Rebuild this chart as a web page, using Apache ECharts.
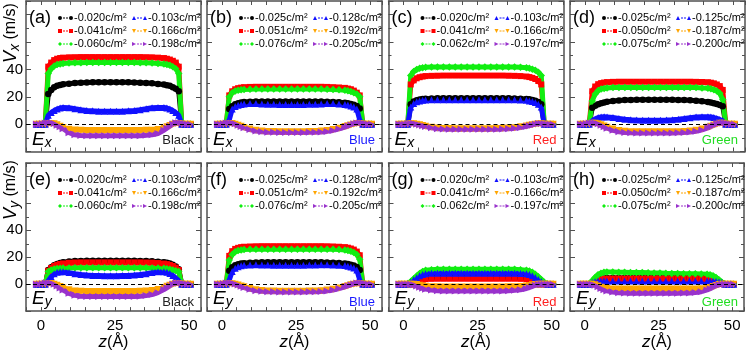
<!DOCTYPE html>
<html>
<head>
<meta charset="utf-8">
<script src="https://cdn.jsdelivr.net/npm/echarts@6/dist/echarts.min.js"></script>
<style>
  html, body { margin: 0; padding: 0; background: #fff; }
  #chart { width: 747px; height: 352px; }
</style>
</head>
<body>
<div id="chart"></div>
<script>
// z positions (Å) shared by every profile
const zPos = [-1.5,-0.5,0.5,1.5, 2.5,3.5,4.5,5.5,6.5,7.5, 9.5,11.5,13.5,15.5,17.5,19.5,21.5,23.5,25.5,27.5,29.5,31.5,33.5,35.5,37.5,39.5, 41.5,42.5,43.5,44.5,45.5,46.5, 47.5,48.5,49.5,50.5];

// surface charge labels per sheet
const qBlack = ['-0.020c/m²','-0.041c/m²','-0.060c/m²','-0.103c/m²','-0.166c/m²','-0.198c/m²'];
const qBlue  = ['-0.025c/m²','-0.051c/m²','-0.076c/m²','-0.128c/m²','-0.192c/m²','-0.205c/m²'];
const qRed   = ['-0.020c/m²','-0.041c/m²','-0.062c/m²','-0.103c/m²','-0.166c/m²','-0.197c/m²'];
const qGreen = ['-0.025c/m²','-0.050c/m²','-0.075c/m²','-0.125c/m²','-0.187c/m²','-0.200c/m²'];

// (a) Vx, Ex, Black
const aBlack  = [0,0,0,0, 22,25,27,28,28.6,29.1, 29.6,30,30.3,30.5,30.6,30.6,30.7,30.7,30.7,30.6,30.6,30.5,30.3,30.1,29.8,29.4, 29,28.5,28,27,25.8,24, 0,0,0,0];
const aRed    = [0,0,0,0, 42,45,46.8,47.8,48.3,48.6, 48.8,48.9,49,49,49,49,49,49,49,49,49,49,49,48.9,48.8,48.6, 48.3,47.8,47.2,46.3,45,42, 0,0,0,0];
const aGreen  = [0,0,0,0, 37,40.5,42.5,43.5,44,44.3, 44.6,44.8,44.9,45,45,45,45,45,45,45,45,45,44.9,44.8,44.6,44.3, 44,43.6,43,42,40.5,37, 0,0,0,0];
const aBlue   = [0,0,0,0, 6.5,8.5,10,11,11.8,12.2, 12,11.2,10.5,10,9.7,9.5,9.5,9.5,9.5,9.5,9.7,10,10.5,11.2,12,12.2, 12.2,11.8,11,10,8.5,6.5, 0,0,0,0];
const aOrange = [0,0,0,0, 0.5,0.5,0.2,-0.5,-1.5,-2.5, -3.8,-4.3,-4.5,-4.6,-4.6,-4.6,-4.6,-4.6,-4.6,-4.6,-4.6,-4.6,-4.6,-4.5,-4.4,-4, -3,-2,-1,0,0.5,0.5, 0,0,0,0];
const aPurple = [0,0,0.3,0.8, 1,1,0.5,-0.8,-2,-3.3, -6.3,-7.8,-8.3,-8.5,-8.5,-8.5,-8.5,-8.5,-8.5,-8.5,-8.5,-8.5,-8.4,-8.2,-7.8,-6.8, -4.5,-3,-1.5,0,1,1, 0.8,0.3,0,0];

// (b) Vx, Ex, Blue
const bBlack  = [0,0,0,0, 11,13,14.5,15.3,15.8,16.1, 16.4,16.5,16.6,16.6,16.6,16.6,16.6,16.6,16.6,16.6,16.6,16.6,16.5,16.4,16.2,16, 15.7,15.3,14.8,14.2,13.2,11.5, 0,0,0,0];
const bRed    = [0,0,0,0, 21,24,25.5,26.3,26.7,27, 27.2,27.3,27.3,27.3,27.3,27.3,27.3,27.3,27.3,27.3,27.3,27.3,27.3,27.2,27,26.8, 26.5,26,25.5,24.5,23,21, 0,0,0,0];
const bGreen  = [0,0,0,0, 20,23,24.2,24.8,25.1,25.3, 25.5,25.6,25.6,25.6,25.6,25.6,25.6,25.6,25.6,25.6,25.6,25.6,25.6,25.5,25.3,25.1, 24.8,24.4,23.8,23,22,20, 0,0,0,0];
const bBlue   = [0,0,0,0, 3,11,12.8,13.8,14.4,14.8, 15,15,14.8,14.6,14.5,14.4,14.4,14.4,14.4,14.4,14.5,14.6,14.8,15,15,14.8, 14.4,14,13.3,12.5,11,3, 0,0,0,0];
const bOrange = [0,0,0,0, 0.5,0.5,0,-0.8,-1.6,-2.4, -3.6,-4.5,-5,-5.3,-5.4,-5.5,-5.5,-5.5,-5.5,-5.5,-5.4,-5.3,-5.1,-4.7,-4,-3, -1.8,-1.2,-0.6,0,0.5,0.5, 0,0,0,0];
const bPurple = [0,0,0.3,0.8, 1,0.8,0.2,-0.8,-1.8,-2.7, -4,-5,-5.6,-5.9,-6,-6.1,-6.1,-6.1,-6.1,-6.1,-6,-5.9,-5.7,-5.3,-4.6,-3.5, -2.2,-1.4,-0.6,0.2,0.8,1, 0.8,0.3,0,0];

// (c) Vx, Ex, Red
const cBlack  = [0,0,0,0, 14.5,16.5,17.5,18,18.4,18.6, 18.8,18.9,19,19,19,19,19,19,19,19,19,19,19,18.9,18.8,18.6, 18.4,18.1,17.7,17.1,16.2,14.5, 0,0,0,0];
const cRed    = [0,0,0,0, 29,32,33.5,34.3,34.8,35.1, 35.3,35.4,35.5,35.5,35.5,35.5,35.5,35.5,35.5,35.5,35.5,35.5,35.5,35.4,35.3,35.1, 34.8,34.4,33.8,33,31.5,29, 0,0,0,0];
const cGreen  = [0,0,0,0, 35.5,38.5,40,40.8,41.2,41.5, 41.7,41.8,41.8,41.8,41.8,41.8,41.8,41.8,41.8,41.8,41.8,41.8,41.8,41.8,41.7,41.5, 41.2,40.8,40.2,39.4,38,35.5, 0,0,0,0];
const cBlue   = [0,0,0,0, 12.5,15,16.3,17,17.4,17.6, 17.8,17.9,17.9,17.9,17.9,17.9,17.9,17.9,17.9,17.9,17.9,17.9,17.9,17.9,17.8,17.6, 17.4,17,16.5,15.8,14.5,12.5, 0,0,0,0];
const cOrange = [0,0,0,0, 0.3,0.3,0,-0.5,-1,-1.5, -2.3,-2.8,-3.1,-3.2,-3.3,-3.3,-3.3,-3.3,-3.3,-3.3,-3.3,-3.2,-3.1,-2.9,-2.6,-2, -1.3,-0.9,-0.5,0,0.3,0.3, 0,0,0,0];
const cPurple = [0,0,0,0.3, 0.5,0.4,0,-0.6,-1.2,-1.8, -2.7,-3.3,-3.6,-3.8,-3.8,-3.8,-3.8,-3.8,-3.8,-3.8,-3.8,-3.7,-3.6,-3.4,-3,-2.4, -1.6,-1.1,-0.6,0,0.4,0.5, 0.3,0,0,0];

// (d) Vx, Ex, Green
const dBlack  = [0,0,0,0, 12,13.5,14.5,15.2,15.8,16.3, 16.9,17.3,17.6,17.7,17.8,17.8,17.8,17.8,17.8,17.8,17.8,17.7,17.6,17.4,17.1,16.7, 16.2,15.8,15.3,14.7,14,13, 0,0,0,0];
const dRed    = [0,0,0,0, 24,27.5,29.2,30,30.4,30.7, 30.9,31,31,31,31,31,31,31,31,31,31,31,31,31,30.9,30.8, 30.6,30.3,29.8,29,27.8,25, 0,0,0,0];
const dGreen  = [0,0,0,0, 17,22,24.5,25.6,26.1,26.4, 26.7,26.8,26.8,26.8,26.8,26.8,26.8,26.8,26.8,26.8,26.8,26.8,26.8,26.8,26.7,26.5, 26.2,25.8,25.2,24.3,22.5,18, 0,0,0,0];
const dBlue   = [0,0,0,0, 2.4,3.8,4.8,5.3,5.4,5.3, 4.8,4.2,3.6,3.2,3,2.9,2.9,2.9,2.9,3,3.2,3.6,4.1,4.7,5.2,5.4, 5.4,5.2,4.8,4.2,3.3,2.4, 0,0,0,0];
const dOrange = [0,0,0,0, 0.6,0.6,0.3,-0.4,-1.3,-2.2, -3.6,-4.6,-5.2,-5.5,-5.6,-5.6,-5.6,-5.6,-5.6,-5.6,-5.6,-5.5,-5.3,-5,-4.5,-3.6, -2.3,-1.5,-0.7,0,0.6,0.6, 0,0,0,0];
const dPurple = [0,0,0.3,0.8, 1,0.8,0.2,-0.8,-2,-3, -4.5,-5.6,-6.1,-6.3,-6.4,-6.4,-6.4,-6.4,-6.4,-6.4,-6.4,-6.3,-6.1,-5.8,-5.2,-4.2, -2.7,-1.8,-0.8,0.2,0.8,1, 0.8,0.3,0,0];

// (e) Vy, Ey, Black
const eBlack  = [0,0,0,0, 10.5,12.5,14,15,15.8,16.3, 16.9,17.2,17.3,17.4,17.4,17.4,17.4,17.4,17.4,17.4,17.4,17.4,17.3,17.2,17,16.7, 16.3,15.9,15.3,14.5,13.2,11, 0,0,0,0];
const eRed    = [0,0,0,0, 10,12,13.5,14.4,15,15.4, 15.9,16.1,16.2,16.2,16.2,16.2,16.2,16.2,16.2,16.2,16.2,16.2,16.2,16.1,16,15.7, 15.3,14.9,14.3,13.5,12.3,10.5, 0,0,0,0];
const eGreen  = [0,0,0,0, 9.5,10.5,11.2,11.6,11.9,12, 12.1,12.2,12.2,12.2,12.2,12.2,12.2,12.2,12.2,12.2,12.2,12.2,12.2,12.2,12.1,12, 11.8,11.5,11.1,10.6,10,9.5, 0,0,0,0];
const eBlue   = [0,0,0,0, 2.5,5.5,7.8,8.8,9.2,9.2, 8.6,7.8,7.2,6.8,6.5,6.4,6.3,6.3,6.3,6.4,6.5,6.8,7.2,7.8,8.6,9.2, 9.2,8.8,8,6.5,4.5,2.5, 0,0,0,0];
const eOrange = [0,0,0,0, 0.5,0.5,0,-0.8,-1.8,-2.8, -4.2,-5,-5.3,-5.4,-5.5,-5.5,-5.5,-5.5,-5.5,-5.5,-5.5,-5.4,-5.3,-5.1,-4.7,-3.9, -2.5,-1.6,-0.8,0,0.5,0.5, 0,0,0,0];
const ePurple = [0,0,0.3,0.8, 1,0.8,0,-1.3,-2.8,-4.3, -6.8,-8.3,-8.9,-9.1,-9.2,-9.2,-9.2,-9.2,-9.2,-9.2,-9.2,-9.1,-8.9,-8.5,-7.7,-6.3, -4,-2.7,-1.3,0,0.8,1, 0.8,0.3,0,0];

// (f) Vy, Ey, Blue
const fBlack  = [0,0,0,0, 10,12.5,14,14.8,15.3,15.6, 15.9,16.1,16.2,16.2,16.2,16.2,16.2,16.2,16.2,16.2,16.2,16.2,16.2,16.1,15.9,15.7, 15.4,15,14.5,13.8,12.8,10.5, 0,0,0,0];
const fRed    = [0,0,0,0, 21,24.5,26.2,27,27.5,27.8, 28,28.1,28.2,28.2,28.2,28.2,28.2,28.2,28.2,28.2,28.2,28.2,28.2,28.1,28,27.8, 27.5,27.1,26.5,25.7,24.2,21.5, 0,0,0,0];
const fGreen  = [0,0,0,0, 18,22,24,25,25.4,25.7, 25.9,26,26,26,26,26,26,26,26,26,26,26,26,26,25.9,25.7, 25.4,25,24.4,23.5,22,18.5, 0,0,0,0];
const fBlue   = [0,0,0,0, 3,9.5,11.8,12.9,13.6,14, 14.3,14.4,14.3,14.2,14.1,14,14,14,14,14.1,14.2,14.3,14.4,14.4,14.3,14.1, 13.8,13.4,12.8,12,10.5,3, 0,0,0,0];
const fOrange = [0,0,0,0, 0.4,0.4,0,-0.6,-1.3,-2, -3.2,-4.1,-4.7,-5,-5.1,-5.2,-5.2,-5.2,-5.2,-5.2,-5.1,-5,-4.8,-4.4,-3.7,-2.8, -1.7,-1.1,-0.5,0,0.4,0.4, 0,0,0,0];
const fPurple = [0,0,0.3,0.8, 1,0.8,0.2,-0.7,-1.6,-2.5, -3.8,-4.8,-5.3,-5.6,-5.7,-5.8,-5.8,-5.8,-5.8,-5.8,-5.7,-5.6,-5.4,-5,-4.3,-3.3, -2,-1.3,-0.6,0.2,0.8,1, 0.8,0.3,0,0];

// (g) Vy, Ey, Red
const gBlack  = [0,0,0,0, 0,0,0.5,2.5,4,4.6, 4.9,5,5,5,5,5,5,5,5,5,5,5,5,5,5,4.9, 4.6,4,2.5,0.8,0,0, 0,0,0,0];
const gRed    = [0,0,0,0, 0,0,0.3,2,3.3,3.8, 4,4.1,4.1,4.1,4.1,4.1,4.1,4.1,4.1,4.1,4.1,4.1,4.1,4.1,4.1,4, 3.8,3.3,2,0.6,0,0, 0,0,0,0];
const gGreen  = [0,0,0,0.5, 2,4,6,8,9.5,10.3, 10.8,11,11.1,11.1,11.1,11.1,11.1,11.1,11.1,11.1,11.1,11.1,11.1,11.1,11,10.8, 10.4,9.8,8.8,7.3,5.5,3.5, 1.5,0.3,0,0];
const gBlue   = [0,0,0,0.3, 1.5,3.2,4.8,6.2,7.2,7.8, 8.1,8.2,8.2,8.2,8.2,8.2,8.2,8.2,8.2,8.2,8.2,8.2,8.2,8.2,8.1,8, 7.7,7.2,6.3,5,3.5,2, 0.8,0,0,0];
const gOrange = [0,0,0,0, 0,0,-0.3,-0.8,-1.3,-1.6, -1.9,-2,-2.1,-2.1,-2.1,-2.1,-2.1,-2.1,-2.1,-2.1,-2.1,-2.1,-2.1,-2,-1.9,-1.7, -1.3,-0.9,-0.5,-0.2,0,0, 0,0,0,0];
const gPurple = [0,0,0,0, 0,-0.5,-1.3,-2.2,-3,-3.7, -4.4,-4.8,-5,-5.1,-5.1,-5.1,-5.1,-5.1,-5.1,-5.1,-5.1,-5.1,-5,-4.9,-4.6,-4.1, -3.2,-2.5,-1.6,-0.8,-0.2,0, 0,0,0,0];

// (h) Vy, Ey, Green
const hBlack  = [0,0,0,0, 0.5,1.5,2.8,3.8,4.3,4.5, 4.6,4.6,4.6,4.6,4.6,4.6,4.6,4.6,4.6,4.6,4.6,4.6,4.6,4.6,4.6,4.5, 4.3,4,3.4,2.5,1.4,0.5, 0,0,0,0];
const hRed    = [0,0,0,0, 0.4,1.2,2.4,3.4,3.9,4.1, 4.2,4.2,4.2,4.2,4.2,4.2,4.2,4.2,4.2,4.2,4.2,4.2,4.2,4.2,4.2,4.1, 3.9,3.6,3,2.2,1.2,0.4, 0,0,0,0];
const hGreen  = [0,0,0,0.3, 2.5,5,7,8.2,8.8,9, 9,8.9,8.9,8.7,8.6,8.6,8.4,8.3,8.3,8.1,8,8,7.8,7.7,7.7,7.5, 7.3,7,6.3,5,3.3,1.5, 0.3,0,0,0];
const hBlue   = [0,0,0,0, 1.2,1.8,2.1,2.2,2.3,2.3, 2.3,2.3,2.3,2.3,2.3,2.3,2.3,2.3,2.3,2.3,2.3,2.3,2.3,2.3,2.3,2.3, 2.3,2.2,2.1,1.9,1.6,1.2, 0,0,0,0];
const hOrange = [0,0,0,0, 0,-0.5,-1.3,-2.2,-2.8,-3.2, -3.5,-3.6,-3.6,-3.6,-3.6,-3.6,-3.6,-3.6,-3.6,-3.6,-3.6,-3.6,-3.6,-3.6,-3.5,-3.4, -3,-2.5,-1.8,-1,-0.3,0, 0,0,0,0];
const hPurple = [0,0,0,0, 0,-0.8,-2,-3.2,-4.2,-5, -5.9,-6.4,-6.6,-6.7,-6.7,-6.7,-6.7,-6.7,-6.7,-6.7,-6.7,-6.7,-6.6,-6.5,-6.2,-5.6, -4.3,-3.4,-2.3,-1.2,-0.4,0, 0,0,0,0];

const panels = [
  { tag: '(a)', field: 'x', sheet: 'Black', sheetColor: '#222', names: qBlack, values: [aBlack, aRed, aGreen, aBlue, aOrange, aPurple] },
  { tag: '(b)', field: 'x', sheet: 'Blue',  sheetColor: '#1a1aff', names: qBlue, values: [bBlack, bRed, bGreen, bBlue, bOrange, bPurple] },
  { tag: '(c)', field: 'x', sheet: 'Red',   sheetColor: '#ff2020', names: qRed, values: [cBlack, cRed, cGreen, cBlue, cOrange, cPurple] },
  { tag: '(d)', field: 'x', sheet: 'Green', sheetColor: '#22dd22', names: qGreen, values: [dBlack, dRed, dGreen, dBlue, dOrange, dPurple] },
  { tag: '(e)', field: 'y', sheet: 'Black', sheetColor: '#222', names: qBlack, values: [eBlack, eRed, eGreen, eBlue, eOrange, ePurple] },
  { tag: '(f)', field: 'y', sheet: 'Blue',  sheetColor: '#1a1aff', names: qBlue, values: [fBlack, fRed, fGreen, fBlue, fOrange, fPurple] },
  { tag: '(g)', field: 'y', sheet: 'Red',   sheetColor: '#ff2020', names: qRed, values: [gBlack, gRed, gGreen, gBlue, gOrange, gPurple] },
  { tag: '(h)', field: 'y', sheet: 'Green', sheetColor: '#22dd22', names: qGreen, values: [hBlack, hRed, hGreen, hBlue, hOrange, hPurple] }
];

const FONT = '"Liberation Sans", Arial, sans-serif';
const FRAME = '#505050';
const COLORS = ['#000000', '#ff0000', '#11ee11', '#1010ff', '#ffa500', '#9932cc'];
const SYMBOLS = ['circle', 'rect', 'diamond', 'triangle', 'triangle', 'triangle'];
const ROTATE = [0, 0, 0, 0, 180, -90];
const SIZES = [6.5, 6, 7.5, 7, 7, 7];
const DASH = 'M10,3H14V5H10ZM16,3H20V5H16Z';
const legendIcons = [
  'path://M0,4A4,4,0,1,1,8,4A4,4,0,1,1,0,4ZM22,4A4,4,0,1,1,30,4A4,4,0,1,1,22,4Z' + DASH,
  'path://M0,0H8V8H0ZM22,0H30V8H22Z' + DASH,
  'path://M4,0L8,4L4,8L0,4ZM26,0L30,4L26,8L22,4Z' + DASH,
  'path://M4,0L8,8H0ZM26,0L30,8H22Z' + DASH,
  'path://M0,0H8L4,8ZM22,0H30L26,8Z' + DASH,
  'path://M0,0L8,4L0,8ZM22,0L30,4L22,8Z' + DASH
];

const gridLefts = [26, 207, 388.5, 570];
const gridTops = [1, 163];
const GW = 175, GH = 150.5;

const grids = [], xAxes = [], yAxes = [], series = [], legends = [], texts = [];

panels.forEach((p, g) => {
  const col = g % 4, row = Math.floor(g / 4);
  const L = gridLefts[col], T = gridTops[row];
  grids.push({ left: L, top: T, width: GW, height: GH, containLabel: false });

  const axLine = { show: true, onZero: false, lineStyle: { color: FRAME, width: 1.5 } };
  const tick = { show: true, inside: true, length: 4, lineStyle: { color: FRAME, width: 1 } };
  const xBase = { type: 'value', gridIndex: g, min: -5, max: 54, interval: 5,
    axisLine: axLine, axisTick: tick, splitLine: { show: false } };
  xAxes.push(Object.assign({}, xBase, {
    position: 'bottom',
    axisLabel: { show: row === 1, margin: 7, fontSize: 15, color: '#000', fontFamily: FONT,
      formatter: v => (v === 0 || v === 25 || v === 50) ? String(v) : '' },
    name: row === 1 ? '{i|z}(Å)' : '', nameLocation: 'middle', nameGap: 20,
    nameTextStyle: { fontSize: 16, color: '#000', fontFamily: FONT,
      rich: { i: { fontStyle: 'italic', fontSize: 17, fontFamily: FONT, color: '#000' } } }
  }));
  xAxes.push(Object.assign({}, xBase, { position: 'top', axisLabel: { show: false } }));

  const yBase = { type: 'value', gridIndex: g, min: -20, max: 90, interval: 20,
    axisLine: axLine, axisTick: { show: true, inside: true, length: 5, lineStyle: { color: FRAME, width: 1 } },
    minorTick: { show: true, splitNumber: 2, length: 3, lineStyle: { color: FRAME, width: 1 } },
    splitLine: { show: false }, minorSplitLine: { show: false } };
  yAxes.push(Object.assign({}, yBase, {
    position: 'left',
    axisLabel: { show: col === 0, margin: 3, fontSize: 15, color: '#000', fontFamily: FONT,
      formatter: v => (v >= 0 && v <= 40) ? String(v) : '' }
  }));
  yAxes.push(Object.assign({}, yBase, { position: 'right', axisLabel: { show: false } }));

  p.values.forEach((arr, k) => {
    const s = {
      type: 'line', name: p.names[k], xAxisIndex: 2 * g, yAxisIndex: 2 * g,
      data: zPos.map((z, i) => [z, arr[i]]),
      symbol: SYMBOLS[k], symbolRotate: ROTATE[k], symbolSize: SIZES[k],
      itemStyle: { color: COLORS[k] },
      lineStyle: { color: COLORS[k], width: 5 },
      emphasis: { disabled: true }, legendHoverLink: false, animation: false
    };
    if (k === 5) {
      s.markLine = { silent: true, symbol: 'none', animation: false, label: { show: false },
        lineStyle: { color: '#000', type: [4, 3], width: 1 }, data: [{ yAxis: 0 }] };
    }
    series.push(s);
  });

  [0, 1].forEach(c => {
    legends.push({
      left: L + (c === 0 ? 27 : 101), top: T + 5.5, orient: 'vertical',
      itemGap: 0, itemWidth: 15, itemHeight: 4, selectedMode: false,
      textStyle: { fontSize: 11, color: '#000', fontFamily: FONT, lineHeight: 13, padding: [0, 0, 0, -4] },
      data: [0, 1, 2].map(r => ({ name: p.names[c * 3 + r], icon: legendIcons[c * 3 + r] }))
    });
  });

  texts.push({ type: 'text', x: L + 3, y: T + 17, silent: true,
    style: { text: p.tag, fontSize: 18, fontFamily: FONT, fill: '#000', verticalAlign: 'middle' } });
  texts.push({ type: 'text', x: L + 6, y: T + (row === 0 ? 138.5 : 135.5), silent: true,
    style: { text: '{e|E}{s|' + p.field + '}', verticalAlign: 'middle', fill: '#000',
      rich: { e: { fontSize: 19, fontStyle: 'italic', fontFamily: FONT, lineHeight: 22 },
              s: { fontSize: 14, fontStyle: 'italic', fontFamily: FONT, lineHeight: 12, verticalAlign: 'bottom' } } } });
  texts.push({ type: 'text', x: L + 168, y: T + 139.5, silent: true,
    style: { text: p.sheet, fontSize: 13, fontFamily: FONT, fill: p.sheetColor, align: 'right', verticalAlign: 'middle' } });
});

['x', 'y'].forEach((f, r) => {
  texts.push({ type: 'text', x: 11, y: r === 0 ? 33 : 190, rotation: Math.PI / 2, silent: true,
    style: { text: '{v|V}{s|' + f + '}{n| (m/s)}', align: 'center', verticalAlign: 'middle', fill: '#000',
      rich: { v: { fontSize: 18, fontStyle: 'italic', fontFamily: FONT, lineHeight: 22 },
              s: { fontSize: 14, fontStyle: 'italic', fontFamily: FONT, lineHeight: 12, verticalAlign: 'bottom' },
              n: { fontSize: 16, fontFamily: FONT, lineHeight: 22 } } } });
});

const chart = echarts.init(document.getElementById('chart'), null, { renderer: 'canvas' });
chart.setOption({
  animation: false,
  backgroundColor: '#fff',
  grid: grids,
  xAxis: xAxes,
  yAxis: yAxes,
  legend: legends,
  series: series,
  graphic: { elements: texts }
});
</script>
</body>
</html>
